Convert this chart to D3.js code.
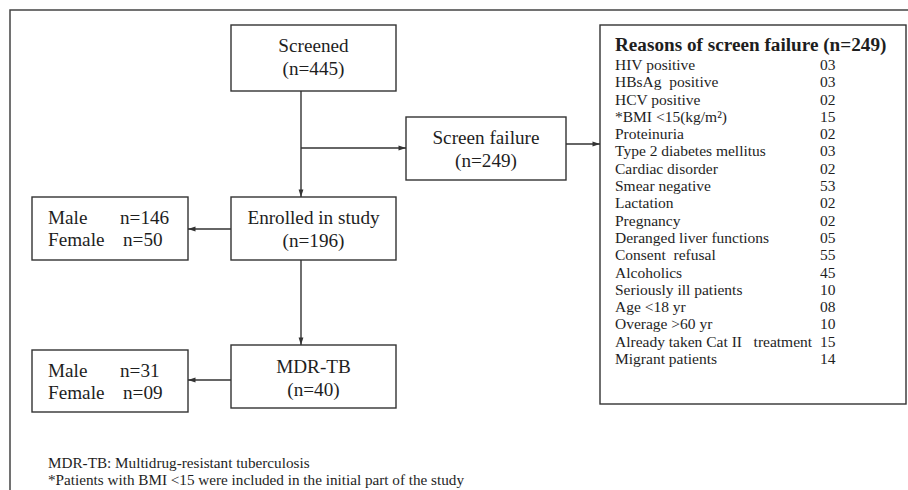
<!DOCTYPE html>
<html>
<head>
<meta charset="utf-8">
<script src="https://cdn.jsdelivr.net/npm/d3@7"></script>
<style>
  html, body { margin: 0; padding: 0; background: #fff; }
  svg { display: block; }
  text { font-family: "Liberation Serif", "Times New Roman", serif; fill: #1e1e1e; white-space: pre; }
</style>
</head>
<body>
<svg id="chart" width="908" height="490"></svg>
<script>
// ---- data ----
const flowLabels = ["Screened", "Screen failure", "Enrolled in study", "MDR-TB"];
const flowCounts = [445, 249, 196, 40];
const sexLabels = ["Male", "Female"];
const enrolledBySex = [146, 50];
const mdrBySex = [31, 9];
const reasonTitle = "Reasons of screen failure (n=249)";
const reasonLabels = [
  "HIV positive", "HBsAg  positive", "HCV positive", "*BMI <15(kg/m\u00B2)",
  "Proteinuria", "Type 2 diabetes mellitus", "Cardiac disorder", "Smear negative",
  "Lactation", "Pregnancy", "Deranged liver functions", "Consent  refusal",
  "Alcoholics", "Seriously ill patients", "Age <18 yr", "Overage >60 yr",
  "Already taken Cat II   treatment", "Migrant patients"
];
const reasonCounts = [3, 3, 2, 15, 2, 3, 2, 53, 2, 2, 5, 55, 45, 10, 8, 10, 15, 14];
const footnotes = [
  "MDR-TB: Multidrug-resistant tuberculosis",
  "*Patients with BMI <15 were included in the initial part of the study"
];

// ---- drawing ----
const svg = d3.select("#chart");
const stroke = "#333";
const fmt2 = d3.format("02d");

svg.append("defs").append("marker")
  .attr("id", "arr").attr("viewBox", "0 -4 10 8")
  .attr("refX", 10).attr("refY", 0)
  .attr("markerWidth", 10).attr("markerHeight", 6)
  .attr("markerUnits", "userSpaceOnUse")
  .attr("orient", "auto")
  .append("path").attr("d", "M0,-3.2L10,0L0,3.2Z").attr("fill", stroke);

// outer frame (top + left)
svg.append("path").attr("d", "M10,490V10H908")
  .attr("fill", "none").attr("stroke", "#444").attr("stroke-width", 1.5);

const boxes = {
  screened: {x: 231, y: 25, w: 165, h: 66},
  failure:  {x: 406, y: 117, w: 160, h: 63},
  enrolled: {x: 231, y: 197, w: 165, h: 63},
  mdr:      {x: 231, y: 345, w: 165, h: 63},
  sex1:     {x: 32, y: 197, w: 156, h: 63},
  sex2:     {x: 32, y: 350, w: 156, h: 62},
  reasons:  {x: 600, y: 25, w: 306, h: 379}
};

Object.values(boxes).forEach(b => {
  svg.append("rect").attr("x", b.x).attr("y", b.y).attr("width", b.w).attr("height", b.h)
    .attr("fill", "#fff").attr("stroke", stroke).attr("stroke-width", 1.4);
});

const boxFont = 19.2;
function boxText(b, lines, dy) {
  const cx = b.x + b.w / 2;
  lines.forEach((t, i) => {
    svg.append("text").attr("x", cx).attr("y", b.y + dy + i * 23)
      .attr("text-anchor", "middle").attr("font-size", boxFont).text(t);
  });
}
const keys = ["screened", "failure", "enrolled", "mdr"];
const firstBase = [27, 27, 27, 28];
keys.forEach((k, i) => boxText(boxes[k], [flowLabels[i], `(n=${flowCounts[i]})`], firstBase[i]));

function sexBox(b, vals) {
  sexLabels.forEach((s, i) => {
    const y = b.y + 27 + i * 22;
    svg.append("text").attr("x", b.x + 16).attr("y", y).attr("font-size", boxFont).text(s);
    svg.append("text").attr("x", b.x + (i === 0 ? 88 : 91)).attr("y", y).attr("font-size", boxFont)
      .text(`n=${i === 0 ? vals[i] : (vals[i] < 10 ? fmt2(vals[i]) : vals[i])}`);
  });
}
sexBox(boxes.sex1, enrolledBySex);
sexBox(boxes.sex2, mdrBySex);

// connectors
const line = (d, arrow) => {
  const p = svg.append("path").attr("d", d).attr("fill", "none")
    .attr("stroke", stroke).attr("stroke-width", 1.4);
  if (arrow) p.attr("marker-end", "url(#arr)");
};
const cx = boxes.screened.x + 70;
line(`M${cx},${boxes.screened.y + boxes.screened.h}V${boxes.enrolled.y}`, true);
line(`M${cx},148H${boxes.failure.x}`, true);
line(`M${boxes.failure.x + boxes.failure.w},144H${boxes.reasons.x}`, true);
line(`M${cx},${boxes.enrolled.y + boxes.enrolled.h}V${boxes.mdr.y}`, true);
line(`M${boxes.enrolled.x},229H${boxes.sex1.x + boxes.sex1.w}`, true);
line(`M${boxes.mdr.x},380H${boxes.sex2.x + boxes.sex2.w}`, true);

// reasons list
const rb = boxes.reasons;
svg.append("text").attr("x", rb.x + 15).attr("y", 51)
  .attr("font-size", 19.2).attr("font-weight", "bold").text(reasonTitle);

const y = d3.scalePoint().domain(reasonLabels).range([70, 364]);
const rows = svg.append("g").selectAll("g").data(reasonLabels).join("g")
  .attr("transform", d => `translate(0,${y(d)})`);
rows.append("text").attr("x", rb.x + 15).attr("font-size", 15.5).text(d => d);
rows.append("text").attr("x", 820).attr("font-size", 15.5)
  .text((d, i) => fmt2(reasonCounts[i]));

// footnotes
footnotes.forEach((t, i) => {
  svg.append("text").attr("x", 48).attr("y", 468 + i * 17).attr("font-size", 15.2).text(t);
});
</script>
</body>
</html>
